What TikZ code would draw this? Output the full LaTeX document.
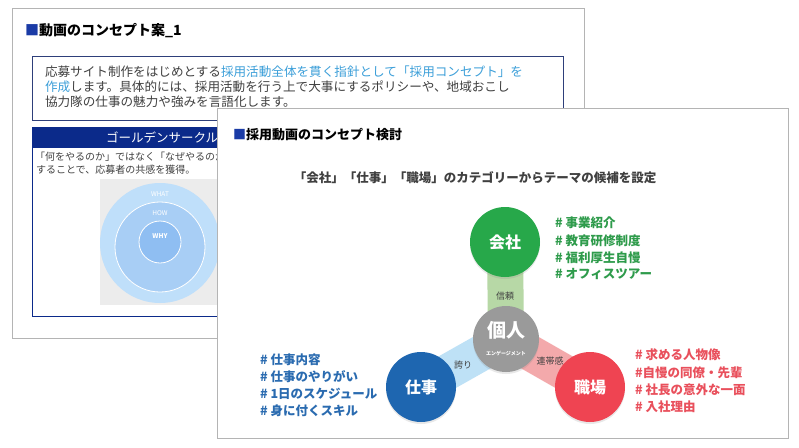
\documentclass[tikz,border=0pt]{standalone}
\usepackage{fontspec}
\setmainfont{Noto Sans CJK JP}
\usetikzlibrary{shadows}
\definecolor{slideborder}{HTML}{B4B4B4}
\definecolor{navy}{HTML}{0B2A8A}
\definecolor{boxborder}{HTML}{2E3F7A}
\definecolor{sqblue}{HTML}{1A3BA6}
\definecolor{txtgray}{HTML}{404040}
\definecolor{linkblue}{HTML}{3C9FD9}
\definecolor{cgreen}{HTML}{27A84A}
\definecolor{tgreen}{HTML}{2E9B4B}
\definecolor{cblue}{HTML}{1E66B0}
\definecolor{tblue}{HTML}{2A6BB0}
\definecolor{cred}{HTML}{EF4452}
\definecolor{tred}{HTML}{E9505C}
\definecolor{cgray}{HTML}{9A9A9A}
\definecolor{bgreen}{HTML}{B7D8A6}
\definecolor{bblue}{HTML}{BEE1F6}
\definecolor{bred}{HTML}{F3A9AB}
\definecolor{gcbg}{HTML}{ECECEC}
\definecolor{gcout}{HTML}{BFDFFA}
\definecolor{gcmid}{HTML}{A8CEF5}
\definecolor{gcin}{HTML}{8FBEF2}
\newcommand\fsz[1]{\fontsize{#1}{#1}\selectfont}
\newcommand\hs{\#\hspace{3pt}}
\pgfdeclarelayer{bot}
\pgfdeclarelayer{mid}
\pgfsetlayers{bot,mid,main}
\begin{document}
\begin{tikzpicture}[x=1pt,y=-1pt,
  every node/.style={inner sep=0pt, outer sep=0pt},
  slide/.style={draw=slideborder, fill=white, line width=0.8pt},
  cat/.style={circle, minimum size=70pt, text=white, font=\fsz{16}\bfseries,
    drop shadow={shadow xshift=0pt, shadow yshift=-2pt, opacity=0.18}},
  band/.style={line width=36pt},
  bandlabel/.style={text=txtgray, font=\fsz{9}},
  tag/.style={anchor=west, font=\fsz{12.5}\bfseries},
  gclabel/.style={text=white, font=\fsz{6.5}}]
\useasboundingbox (0,0) rectangle (799,447);
\begin{pgfonlayer}{bot}
% ---------- back slide ----------
\draw[slide] (12,8) rectangle (584,338);
\node[anchor=west, text=black, font=\fsz{14}\bfseries] (t1) at (25,31)
  {\textcolor{sqblue}{■}動画のコンセプト案\_1};
\draw[boxborder, line width=0.8pt] (32,56) rectangle (563,120);
\node[anchor=west, text=txtgray, font=\fsz{12.6}] (p1) at (45,72)
  {応募サイト制作をはじめとする\textcolor{linkblue}{採用活動全体を貫く指針として「採用コンセプト」を}};
\node[anchor=west, text=txtgray, font=\fsz{12.6}] (p2) at (45,87)
  {\textcolor{linkblue}{作成}します。具体的には、採用活動を行う上で大事にするポリシーや、地域おこし};
\node[anchor=west, text=txtgray, font=\fsz{12.6}] (p3) at (45,101.5)
  {協力隊の仕事の魅力や強みを言語化します。};
% golden circle box
\draw[navy, line width=0.8pt] (32,127) rectangle (563,316);
\fill[navy] (32,127) rectangle (563,148);
\node[anchor=west, text=white, font=\fsz{12.5}] (gh) at (106,137.5) {ゴールデンサークル};
\node[anchor=west, text=txtgray, font=\fsz{10}] (gt1) at (35,157) {「何をやるのか」ではなく「なぜやるのか」};
\node[anchor=west, text=txtgray, font=\fsz{10}] (gt2) at (36,170) {することで、応募者の共感を獲得。};
\fill[gcbg] (100,179) rectangle (230,305);
\node[circle, fill=gcout, minimum size=120pt] (gco) at (160,243) {};
\node[circle, fill=gcmid, draw=white, line width=0.8pt, minimum size=90pt] (gcm) at (160,247) {};
\node[circle, fill=gcin, draw=white, line width=0.8pt, minimum size=42pt] (gci) at (160,242) {};
\node[gclabel] (what) at (160,194) {WHAT};
\node[gclabel] (how) at (160,213) {HOW};
\node[gclabel, font=\fsz{6.5}\bfseries] (why) at (160,236) {WHY};
% ---------- front slide ----------
\draw[slide] (217,108) rectangle (788,438);
\end{pgfonlayer}

\node[anchor=west, text=black, font=\fsz{13}\bfseries] (t2) at (233,135)
  {\textcolor{sqblue}{■}採用動画のコンセプト検討};
\node[text=txtgray, font=\fsz{12.5}\bfseries] (sub) at (475,178)
  {「会社」「仕事」「職場」のカテゴリーからテーマの候補を設定};

% circles
\node[cat, fill=cgreen] (kaisha) at (505,242) {会社};
\node[cat, fill=cgray, minimum size=66pt, align=center] (kojin) at (506,339)
  {{\fsz{19}\bfseries 個人}\\[2pt]{\fsz{5}エンゲージメント}};
\node[cat, fill=cblue] (shigoto) at (421,387) {仕事};
\node[cat, fill=cred] (shokuba) at (590,387) {職場};

% bands
\begin{pgfonlayer}{mid}
\draw[band, bgreen] (kaisha.center) -- (kojin.center);
\draw[band, bblue] (shigoto.center) -- (kojin.center);
\draw[band, bred] (shokuba.center) -- (kojin.center);
\end{pgfonlayer}
\node[bandlabel] (l1) at (505,296) {信頼};
\node[bandlabel] (l2) at (463,365) {誇り};
\node[bandlabel] (l3) at (550,361) {連帯感};

% tags
\node[tag, text=tgreen] (g1) at (555,223) {\hs 事業紹介};
\node[tag, text=tgreen] (g2) at (555,240.5) {\hs 教育研修制度};
\node[tag, text=tgreen] (g3) at (555,257.5) {\hs 福利厚生自慢};
\node[tag, text=tgreen] (g4) at (555,274) {\hs オフィスツアー};

\node[tag, text=tblue] (b1) at (260,360) {\hs 仕事内容};
\node[tag, text=tblue] (b2) at (260,377) {\hs 仕事のやりがい};
\node[tag, text=tblue] (b3) at (260,394) {\hs 1日のスケジュール};
\node[tag, text=tblue] (b4) at (260,411) {\hs 身に付くスキル};

\node[tag, text=tred] (r1) at (635,355) {\hs 求める人物像};
\node[tag, text=tred] (r2) at (635,373) {\#自慢の同僚・先輩};
\node[tag, text=tred] (r3) at (635,390) {\hs 社長の意外な一面};
\node[tag, text=tred] (r4) at (635,407) {\hs 入社理由};
\end{tikzpicture}
\end{document}
